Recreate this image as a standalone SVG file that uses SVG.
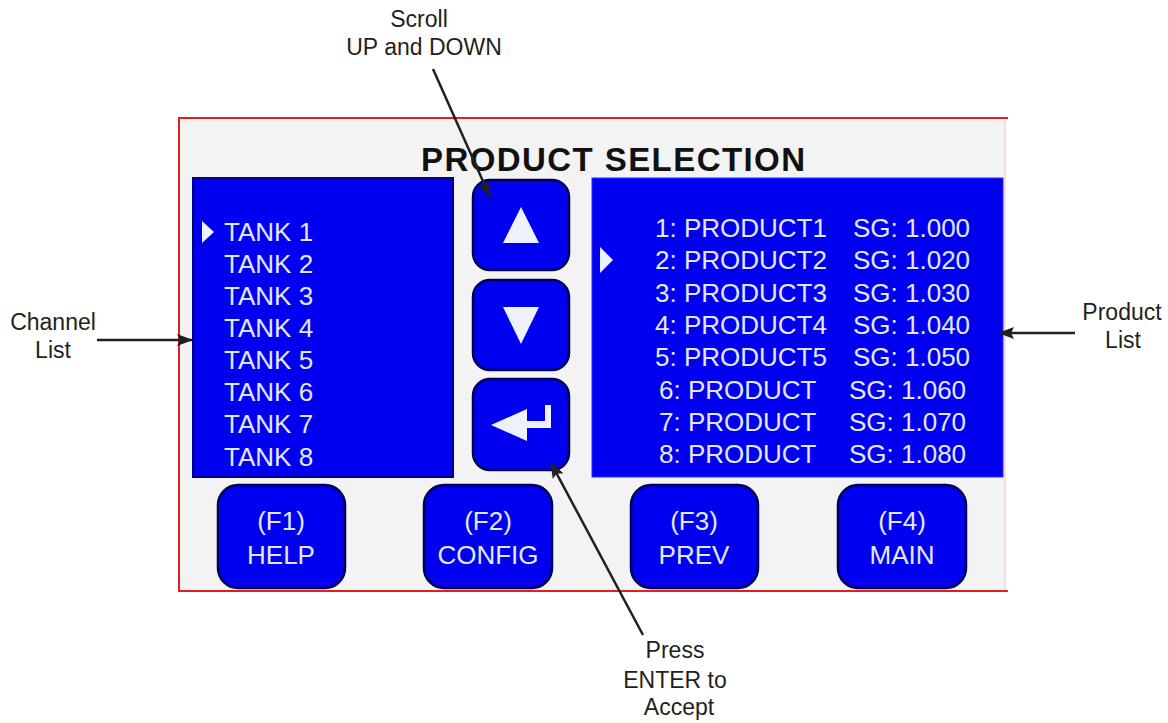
<svg xmlns="http://www.w3.org/2000/svg" width="1168" height="723" viewBox="0 0 1168 723">
<style>
.lbl{font-family:"Liberation Sans",Arial,sans-serif;font-size:23px;fill:#231f20;text-anchor:middle}
.scr{font-family:"Liberation Sans",Arial,sans-serif;font-size:26px;fill:#e4e8f6}
.mid{text-anchor:middle}
.panel{fill:#0000f0}
.btn{fill:#0000f0;stroke:#000050;stroke-width:2.5}
.ptr{fill:#eef0fa}
.conn{stroke:#231f20;stroke-width:2.5;fill:none;marker-end:url(#ah)}
</style>
<defs>
<marker id="ah" viewBox="0 0 16 12" refX="15" refY="6" markerWidth="16" markerHeight="12" markerUnits="userSpaceOnUse" orient="auto">
<path d="M0,0 L16,6 L0,12 L3,6 Z" fill="#231f20"/>
</marker>
</defs>
<rect width="1168" height="723" fill="#ffffff"/>
<g id="screen">
<rect x="179" y="119" width="827" height="472" fill="#f3f3f3"/>
<line x1="178" y1="118" x2="1008" y2="118" stroke="#e02020" stroke-width="2"/>
<line x1="179" y1="118" x2="179" y2="592" stroke="#e02020" stroke-width="2"/>
<line x1="178" y1="591" x2="1008" y2="591" stroke="#e02020" stroke-width="2"/>
<line x1="1005" y1="119" x2="1005" y2="590" stroke="#f6d6d6" stroke-width="1.5"/>
<text x="421" y="171" textLength="384" lengthAdjust="spacing" style="font-family:'Liberation Sans',Arial,sans-serif;font-size:33px;font-weight:bold;fill:#111111">PRODUCT SELECTION</text>
</g>
<g id="channel-list">
<rect x="193" y="178" width="260" height="299" class="panel" stroke="#00007a" stroke-width="2"/>
<polygon points="202,221 214,232 202,243" class="ptr"/>
<text class="scr" x="224" y="241">TANK 1</text>
<text class="scr" x="224" y="273">TANK 2</text>
<text class="scr" x="224" y="305">TANK 3</text>
<text class="scr" x="224" y="337">TANK 4</text>
<text class="scr" x="224" y="369">TANK 5</text>
<text class="scr" x="224" y="401">TANK 6</text>
<text class="scr" x="224" y="433">TANK 7</text>
<text class="scr" x="224" y="466">TANK 8</text>
</g>
<g id="product-list">
<rect x="592" y="178" width="411" height="299" class="panel" stroke="#2a2aff" stroke-width="1"/>
<polygon points="600,247 613,260 600,273" class="ptr"/>
<text class="scr" x="655" y="237">1: PRODUCT1</text><text class="scr" x="853" y="237">SG: 1.000</text>
<text class="scr" x="655" y="269">2: PRODUCT2</text><text class="scr" x="853" y="269">SG: 1.020</text>
<text class="scr" x="655" y="302">3: PRODUCT3</text><text class="scr" x="853" y="302">SG: 1.030</text>
<text class="scr" x="655" y="334">4: PRODUCT4</text><text class="scr" x="853" y="334">SG: 1.040</text>
<text class="scr" x="655" y="366">5: PRODUCT5</text><text class="scr" x="853" y="366">SG: 1.050</text>
<text class="scr" x="659" y="399">6: PRODUCT</text><text class="scr" x="849" y="399">SG: 1.060</text>
<text class="scr" x="659" y="431">7: PRODUCT</text><text class="scr" x="849" y="431">SG: 1.070</text>
<text class="scr" x="659" y="463">8: PRODUCT</text><text class="scr" x="849" y="463">SG: 1.080</text>
</g>
<g id="btn-up">
<rect x="473" y="180" width="96" height="90" rx="17" class="btn"/>
<polygon points="503,243 539,243 521,207" class="ptr"/>
</g>
<g id="btn-down">
<rect x="473" y="280" width="96" height="90" rx="17" class="btn"/>
<polygon points="503,307 539,307 521,344" class="ptr"/>
</g>
<g id="btn-enter">
<rect x="473" y="379" width="96" height="91" rx="17" class="btn"/>
<path d="M491,425 L527,409 L527,421 L545,421 L545,405 L551,405 L551,428 L527,428 L527,441 Z" class="ptr"/>
</g>
<g id="btn-f1">
<rect x="218" y="485" width="127" height="103" rx="20" class="btn"/>
<text class="scr mid" x="281" y="530">(F1)</text>
<text class="scr mid" x="281" y="564">HELP</text>
</g>
<g id="btn-f2">
<rect x="424" y="485" width="128" height="103" rx="20" class="btn"/>
<text class="scr mid" x="488" y="530">(F2)</text>
<text class="scr mid" x="488" y="564">CONFIG</text>
</g>
<g id="btn-f3">
<rect x="631" y="485" width="127" height="103" rx="20" class="btn"/>
<text class="scr mid" x="694" y="530">(F3)</text>
<text class="scr mid" x="694" y="564">PREV</text>
</g>
<g id="btn-f4">
<rect x="838" y="485" width="128" height="103" rx="20" class="btn"/>
<text class="scr mid" x="902" y="530">(F4)</text>
<text class="scr mid" x="902" y="564">MAIN</text>
</g>
<g id="label-scroll">
<text class="lbl" x="419" y="27">Scroll</text>
<text class="lbl" x="424" y="55">UP and DOWN</text>
</g>
<g id="label-channel">
<text class="lbl" x="53" y="330">Channel</text>
<text class="lbl" x="53" y="358">List</text>
</g>
<g id="label-product">
<text class="lbl" x="1122" y="320">Product</text>
<text class="lbl" x="1123" y="348">List</text>
</g>
<g id="label-enter">
<text class="lbl" x="675" y="658">Press</text>
<text class="lbl" x="675" y="688">ENTER to</text>
<text class="lbl" x="679" y="715">Accept</text>
</g>
<g id="connectors">
<line x1="433" y1="69" x2="490" y2="197" class="conn"/>
<line x1="643" y1="635" x2="551" y2="463" class="conn"/>
<line x1="97" y1="340" x2="192" y2="340" class="conn"/>
<line x1="1075" y1="333" x2="999" y2="333" class="conn"/>
</g>
</svg>
